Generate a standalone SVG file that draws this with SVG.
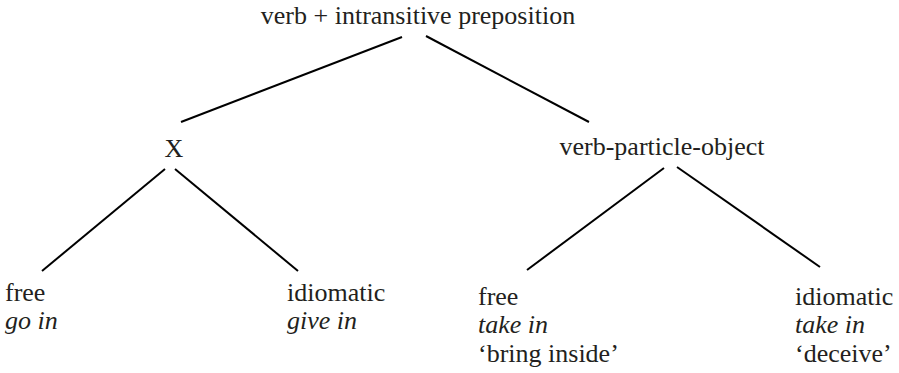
<svg xmlns="http://www.w3.org/2000/svg" width="899" height="373" viewBox="0 0 899 373">
  <style>
    .lbl { font-size: 26px; fill: #231f20; }
    .it { font-style: italic; }
    .mid { text-anchor: middle; }
    .edge { stroke: #000; stroke-width: 2; fill: none; stroke-linecap: butt; }
  </style>
  <rect width="899" height="373" fill="#fff"/>
  <g id="connectors">
    <line class="edge" x1="402" y1="37" x2="181" y2="122"/>
    <line class="edge" x1="426" y1="36" x2="589" y2="122"/>
    <line class="edge" x1="165" y1="169" x2="42" y2="271"/>
    <line class="edge" x1="175" y1="169" x2="298" y2="271"/>
    <line class="edge" x1="664" y1="168" x2="527" y2="270"/>
    <line class="edge" x1="677" y1="167" x2="820" y2="267"/>
  </g>
  <g font-family="Liberation Serif, serif">
    <g id="root">
      <text class="lbl mid" x="418" y="24">verb + intransitive preposition</text>
    </g>
    <g id="x-node">
      <text class="lbl mid" x="174" y="157">X</text>
    </g>
    <g id="vpo-node">
      <text class="lbl mid" x="662" y="155">verb-particle-object</text>
    </g>
    <g id="free-go-in">
      <text class="lbl" x="5" y="301">free</text>
      <text class="lbl it" x="5" y="329">go in</text>
    </g>
    <g id="idiomatic-give-in">
      <text class="lbl" x="287" y="301">idiomatic</text>
      <text class="lbl it" x="287" y="329">give in</text>
    </g>
    <g id="free-take-in">
      <text class="lbl" x="478" y="305">free</text>
      <text class="lbl it" x="478" y="333">take in</text>
      <text class="lbl" x="478" y="362">‘bring inside’</text>
    </g>
    <g id="idiomatic-take-in">
      <text class="lbl" x="795" y="305">idiomatic</text>
      <text class="lbl it" x="795" y="333">take in</text>
      <text class="lbl" x="795" y="362">‘deceive’</text>
    </g>
  </g>
</svg>
